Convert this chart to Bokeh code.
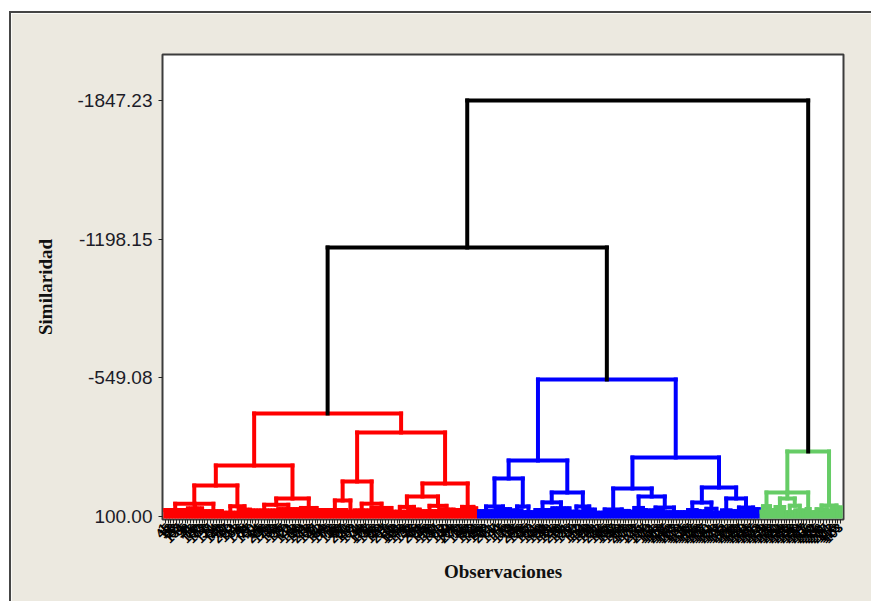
import math
from bokeh.plotting import figure
from bokeh.models import Range1d, FixedTicker, ColumnDataSource
from bokeh.embed import file_html
from bokeh.resources import INLINE

# ---------------- data ----------------
leaf_level = 100.0
y_tick_values = [100.0, -549.08, -1198.15, -1847.23]
y_tick_labels = ["100.00", "-549.08", "-1198.15", "-1847.23"]

# heights of the two black (top) merges: red+blue, then (red+blue)+green
merge_heights = [-1159.0, -1847.23]

# cluster trees: (similarity, child, child, ...); an int child = that many single observations
red_tree = (-382.1,
            (-138.7,
             (-45.1, (40, (70, 8), (62, 6), (75, 7)), (52, (82, 5), (68, 5))),
             (16, (45, (72, 9), (66, 8)), (60, 1, (78, 3), (70, 4)))),
            (-293.2,
             (-63.8, (25, (70, 9), (78, 2)), (40, (72, 6), (60, 8))),
             (-54.5, (6.4, (55, (78, 5), (68, 5)), (50, (75, 6), (68, 6))),
              (55, (70, 5), (62, 3)))))

blue_tree = (-541.3,
             (-162.1,
              (-77.9, (53, (75, 6), (66, 6)), (53, (72, 4), (80, 4))),
              (-12.3, (34, (70, 6), (62, 7)), (53, (78, 4), (68, 5)))),
             (-176.2,
              (-31.1, (67, (82, 6), (74, 6)),
               (6.4, (60, (78, 3), (70, 3)), (58, (72, 6), (80, 7)))),
              (-35.7, (34.5, (70, (80, 3), (74, 3)), (64, (76, 4), (82, 3))),
               (15.7, (72, 4), (58, (75, 5), (66, 5))))))

green_tree = (-204.3,
              (-12.3, (52, (78, 2), (70, 3)), (16, (55, 4), (50, (80, 3), (72, 4))), (65, 2)),
              (48, (66, (80, 4), (72, 3)), (58, 4)))

cluster_colors = ["#FF0000", "#0000FF", "#66CC66"]
link_color = "#000000"

obs_labels = [
    1, 45, 12, 88, 23, 67, 134, 5, 98, 41,
    76, 19, 150, 33, 102, 8, 57, 121, 64, 29,
    143, 90, 17, 200, 52, 111, 38, 6, 175, 84,
    27, 160, 71, 14, 95, 208, 46, 129, 3, 60,
    188, 35, 117, 79, 22, 141, 9, 166, 50, 104,
    31, 213, 68, 127, 11, 92, 154, 40, 185, 73,
    16, 138, 59, 97, 230, 25, 113, 82, 171, 4,
    49, 196, 107, 36, 146, 63, 20, 124, 87, 219,
    55, 10, 158, 101, 43, 179, 75, 132, 28, 66,
    204, 93, 15, 148, 58, 120, 37, 191, 80, 2,
    169, 44, 109, 226, 70, 13, 136, 99, 53, 182,
    24, 156, 86, 118, 32, 201, 61, 7, 144, 77,
    115, 39, 173, 94, 18, 235, 56, 128, 85, 47,
    162, 21, 105, 69, 194, 34, 140, 81, 126, 48,
    210, 65, 131, 26, 177, 89, 42, 152, 114, 30,
    198, 74, 139, 51, 222, 96, 165, 62, 108, 187,
    83, 149, 54, 233, 100, 170, 78, 122, 215, 91,
    137, 209, 72, 161, 106, 183, 119, 227, 145, 189,
    153, 203, 110, 174, 135, 216, 147, 192, 125, 238,
    163, 207, 130, 181, 151, 223, 172, 195, 142, 211,
    176, 229, 133, 199, 157, 218, 184, 236, 167, 205,
    193, 224, 159, 214, 178, 232, 190, 220, 164, 239,
    186, 212, 168, 228, 180, 234, 197, 217, 155, 240,
    202, 225, 206, 231, 237, 221, 112, 116, 123, 103,
]

# ---------------- dendrogram geometry from the trees ----------------
segs = {"x0": [], "y0": [], "x1": [], "y1": [], "color": []}


def add(x0, y0, x1, y1, c):
    segs["x0"].append(x0); segs["y0"].append(y0)
    segs["x1"].append(x1); segs["y1"].append(y1)
    segs["color"].append(c)


def build(node, start, color):
    h = node[0]
    pts = []
    idx = start
    for c in node[1:]:
        if isinstance(c, int):
            for _ in range(c):
                pts.append((idx, leaf_level))
                idx += 1
        else:
            x, ch, idx = build(c, idx, color)
            pts.append((x, ch))
    xs = [p[0] for p in pts]
    add(min(xs), h, max(xs), h, color)
    for x, y in pts:
        add(x, y, x, h, color)
    return (xs[0] + xs[-1]) / 2.0, h, idx


def link(a, b, h):
    add(a[0], h, b[0], h, link_color)
    add(a[0], a[1], a[0], h, link_color)
    add(b[0], b[1], b[0], h, link_color)
    return ((a[0] + b[0]) / 2.0, h)


start = 0
results = []
for tree, col in zip([red_tree, blue_tree, green_tree], cluster_colors):
    x, h, start = build(tree, start, col)
    results.append((x, h))
n_leaves = start

mid = link(results[0], results[1], merge_heights[0])
top = link(mid, results[2], merge_heights[1])

# ---------------- figure ----------------
beige = "#ECE9E0"
p = figure(width=862, height=590, output_backend="svg", toolbar_location=None,
           x_range=Range1d(-1, n_leaves), y_range=Range1d(114.0, -2062.5),
           min_border_left=151, min_border_top=41, min_border_right=30, min_border_bottom=84)
p.styles = {"margin-top": "11px", "margin-left": "9px",
            "border-top": "2px solid #454545", "border-left": "2px solid #454545"}
p.background_fill_color = "white"
p.border_fill_color = beige
p.outline_line_color = "#3c3c3c"
p.outline_line_width = 2
p.xgrid.visible = False
p.ygrid.visible = False

p.segment("x0", "y0", "x1", "y1", source=ColumnDataSource(segs), color="color",
          line_width=4, line_cap="square")

# y axis
p.yaxis.ticker = FixedTicker(ticks=y_tick_values)
p.yaxis.major_label_overrides = {v: t for v, t in zip(y_tick_values, y_tick_labels)}
p.yaxis.axis_label = "Similaridad"
p.yaxis.major_label_text_font = "Liberation Sans"
p.yaxis.major_label_text_font_size = "19px"
p.yaxis.major_label_text_color = "#1c1c28"
p.yaxis.major_label_standoff = 6
p.yaxis.axis_label_standoff = 18

# x axis
p.xaxis.ticker = FixedTicker(ticks=list(range(n_leaves)))
p.xaxis.major_label_overrides = {i: str(v) for i, v in enumerate(obs_labels)}
p.xaxis.major_label_orientation = math.pi / 4
p.xaxis.major_label_text_font = "Liberation Sans"
p.xaxis.major_label_text_font_size = "13px"
p.xaxis.major_label_text_font_style = "bold"
p.xaxis.major_label_text_color = "#000000"
p.xaxis.major_label_standoff = 2
p.xaxis.axis_label = "Observaciones"
p.xaxis.axis_label_standoff = 11

for ax in (p.xaxis, p.yaxis):
    ax.axis_line_color = None
    ax.major_tick_out = 4
    ax.major_tick_in = 0
    ax.major_tick_line_color = "#222222"
    ax.minor_tick_line_color = None
    ax.axis_label_text_font = "Liberation Serif"
    ax.axis_label_text_font_style = "bold"
    ax.axis_label_text_font_size = "19px"
    ax.axis_label_text_color = "#111111"

open("out.html", "w").write(file_html(p, INLINE))
